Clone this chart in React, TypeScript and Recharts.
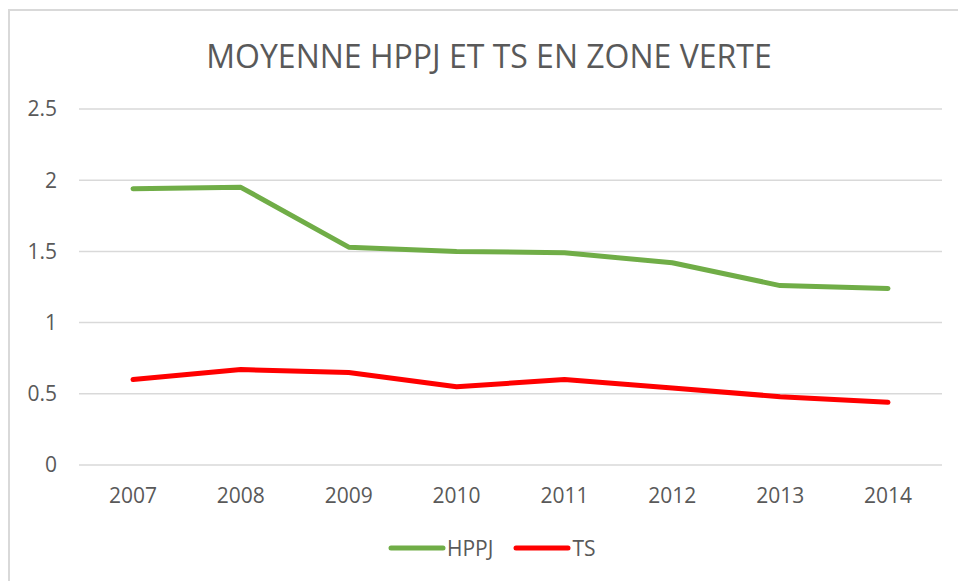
import React from "react";
import { LineChart, Line, CartesianGrid, XAxis, YAxis, Legend } from "recharts";

const years = ["2007", "2008", "2009", "2010", "2011", "2012", "2013", "2014"];
const hppj = [1.94, 1.95, 1.53, 1.5, 1.49, 1.42, 1.26, 1.24];
const ts = [0.6, 0.67, 0.65, 0.55, 0.6, 0.54, 0.48, 0.44];
const yTicks = [0, 0.5, 1, 1.5, 2, 2.5];

const data = years.map((year, i) => ({ year, HPPJ: hppj[i], TS: ts[i] }));

const FONT = "'Open Sans', sans-serif";
const TEXT = "#595959";

const LegendContent = (props: any) => {
  const { payload } = props;
  return (
    <div style={{ display: "flex", alignItems: "center", fontFamily: FONT }}>
      {(payload || []).map((entry: any, i: number) => (
        <div
          key={entry.value}
          style={{ display: "flex", alignItems: "center", marginLeft: i ? 20 : 0 }}
        >
          <svg width={58} height={8}>
            <line
              x1={3}
              y1={4}
              x2={55}
              y2={4}
              stroke={entry.color}
              strokeWidth={5}
              strokeLinecap="round"
            />
          </svg>
          <span style={{ fontSize: 21, color: TEXT, marginLeft: 1 }}>{entry.value}</span>
        </div>
      ))}
    </div>
  );
};

export default function App() {
  return (
    <div
      style={{
        position: "fixed",
        left: 0,
        top: 0,
        width: 958,
        height: 581,
        overflow: "hidden",
        background: "#fff",
      }}
    >
      <div
        style={{
          position: "absolute",
          left: 8,
          top: 9,
          width: 1000,
          height: 620,
          border: "2px solid #d9d9d9",
        }}
      />
      <div
        style={{
          position: "absolute",
          left: 0,
          top: 34,
          width: 978,
          textAlign: "center",
          fontFamily: FONT,
          fontSize: 32,
          color: TEXT,
          whiteSpace: "nowrap",
        }}
      >
        MOYENNE HPPJ ET TS EN ZONE VERTE
      </div>
      <div style={{ position: "absolute", left: 0, top: 0 }}>
        <LineChart
          width={958}
          height={581}
          data={data}
          margin={{ top: 109, right: 16, bottom: 56, left: 0 }}
          style={{ fontFamily: FONT }}
        >
          <CartesianGrid vertical={false} stroke="#d9d9d9" strokeWidth={1.5} />
          <XAxis
            dataKey="year"
            height={30}
            padding={{ left: 54, right: 54 }}
            axisLine={false}
            tickLine={false}
            tickMargin={17}
            tick={{ fill: TEXT, fontSize: 21 }}
          />
          <YAxis
            width={79}
            domain={[0, 2.5]}
            ticks={yTicks}
            axisLine={false}
            tickLine={false}
            tickMargin={16}
            tick={{ fill: TEXT, fontSize: 21 }}
          />
          <Line
            type="linear"
            dataKey="HPPJ"
            stroke="#70ad47"
            strokeWidth={5}
            strokeLinecap="round"
            strokeLinejoin="round"
            dot={false}
            activeDot={false}
            isAnimationActive={false}
          />
          <Line
            type="linear"
            dataKey="TS"
            stroke="#ff0000"
            strokeWidth={5}
            strokeLinecap="round"
            strokeLinejoin="round"
            dot={false}
            activeDot={false}
            isAnimationActive={false}
          />
          <Legend
            height={30}
            content={<LegendContent />}
            wrapperStyle={{ left: 388, top: 534, bottom: "auto", width: 300 }}
          />
        </LineChart>
      </div>
    </div>
  );
}
